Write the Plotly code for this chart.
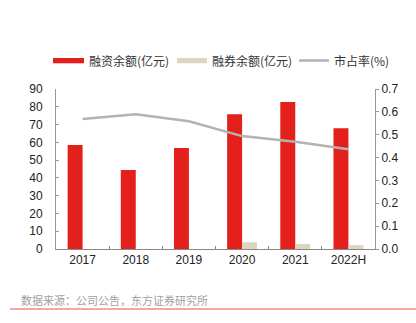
import plotly.graph_objects as go

categories = ["2017", "2018", "2019", "2020", "2021", "2022H"]
margin_financing = [58.5, 44.4, 56.8, 75.8, 82.7, 67.9]
securities_lending = [0.0, 0.0, 0.0, 3.8, 2.8, 2.2]
market_share = [0.569, 0.589, 0.559, 0.494, 0.469, 0.436]

left_ticks = list(range(0, 91, 10))
right_ticks = [round(i * 0.1, 1) for i in range(0, 8)]

RED = "#E3201B"
BEIGE = "#DDD5C0"
GRAY = "#B3B3B3"
FONT = "Liberation Sans, Noto Sans CJK SC, sans-serif"
CJK = "Noto Sans CJK SC, Liberation Sans, sans-serif"

L, R, T, B = 56, 41, 89, 74
W, H = 416, 323
PW, PH = W - L - R, H - T - B

def px(x):
    return (x - L) / PW

def py(y):
    return (T + PH - y) / PH

fig = go.Figure()
fig.add_trace(go.Bar(x=categories, y=margin_financing, name="融资余额(亿元)",
                     marker=dict(color=RED, line=dict(width=0)), yaxis="y"))
fig.add_trace(go.Bar(x=categories, y=securities_lending, name="融券余额(亿元)",
                     marker=dict(color=BEIGE, line=dict(width=0)), yaxis="y"))
fig.add_trace(go.Scatter(x=categories, y=market_share, name="市占率(%)", mode="lines",
                         line=dict(color=GRAY, width=2.5), yaxis="y2"))

shapes = [
    dict(type="rect", xref="paper", yref="paper", x0=px(53), x1=px(84), y0=py(58), y1=py(63.3),
         fillcolor=RED, line=dict(width=0)),
    dict(type="rect", xref="paper", yref="paper", x0=px(177), x1=px(207), y0=py(58), y1=py(63.3),
         fillcolor=BEIGE, line=dict(width=0)),
    dict(type="line", xref="paper", yref="paper", x0=px(299), x1=px(329), y0=py(60.5), y1=py(60.5),
         line=dict(color=GRAY, width=2.5)),
    dict(type="line", xref="paper", yref="paper", x0=px(10), x1=px(416), y0=py(309), y1=py(309),
         line=dict(color="#F08A80", width=1.5)),
]
annotations = [
    dict(text="融资余额(亿元)", xref="paper", yref="paper", x=px(87), y=py(60.5), xanchor="left",
         yanchor="middle", showarrow=False, font=dict(family=CJK, size=12, color="#333333")),
    dict(text="融券余额(亿元)", xref="paper", yref="paper", x=px(210), y=py(60.5), xanchor="left",
         yanchor="middle", showarrow=False, font=dict(family=CJK, size=12, color="#333333")),
    dict(text="市占率(%)", xref="paper", yref="paper", x=px(332), y=py(60.5), xanchor="left",
         yanchor="middle", showarrow=False, font=dict(family=CJK, size=12, color="#333333")),
    dict(text="数据来源：公司公告，东方证券研究所", xref="paper", yref="paper", x=px(19), y=py(300),
         xanchor="left", yanchor="middle", showarrow=False,
         font=dict(family=CJK, size=11, color="#A0A0A0")),
]

fig.update_layout(
    width=W, height=H,
    margin=dict(l=L, r=R, t=T, b=B, pad=0),
    paper_bgcolor="white", plot_bgcolor="white",
    showlegend=False,
    barmode="group", bargap=0.4375, bargroupgap=0,
    font=dict(family=FONT, size=12, color="#222222"),
    xaxis=dict(type="category", showline=True, linecolor="#888888", linewidth=1,
               ticks="inside", tickson="boundaries", ticklen=3, tickcolor="#888888",
               showgrid=False, tickfont=dict(size=12, color="#222222"), zeroline=False),
    yaxis=dict(range=[0, 90], tickvals=left_ticks, showline=True, linecolor="#999999",
               linewidth=1, ticks="inside", ticklen=3, tickcolor="#999999", showgrid=False,
               zeroline=False, tickfont=dict(size=12, color="#222222"), ticklabelstandoff=10),
    yaxis2=dict(range=[0, 0.7], tickvals=right_ticks, tickformat=".1f", overlaying="y",
                side="right", showline=True, linecolor="#999999", linewidth=1,
                ticks="outside", ticklen=3, tickcolor="#999999", showgrid=False,
                zeroline=False, tickfont=dict(size=12, color="#222222")),
    shapes=shapes, annotations=annotations,
)

fig.write_html("out.html")
